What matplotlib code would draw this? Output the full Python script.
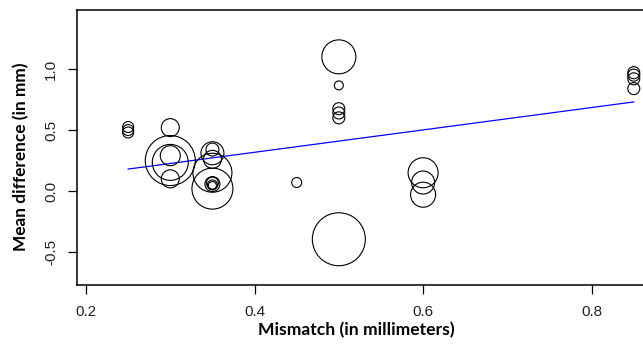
import numpy as np
import matplotlib
matplotlib.use("Agg")
import matplotlib.pyplot as plt

# bubble data: mismatch (mm), mean difference (mm), relative weight
mismatch = [0.25, 0.25, 0.25,
            0.30, 0.30, 0.30, 0.30, 0.30,
            0.35, 0.35, 0.35, 0.35, 0.35, 0.35, 0.35, 0.35, 0.35,
            0.45,
            0.50, 0.50, 0.50, 0.50, 0.50, 0.50,
            0.60, 0.60, 0.60,
            0.85, 0.85, 0.85, 0.85]
mean_diff = [0.525, 0.50, 0.48,
             0.52, 0.25, 0.235, 0.29, 0.10,
             0.34, 0.31, 0.26, 0.15, 0.02, 0.057, 0.05, 0.045, 0.065,
             0.07,
             1.10, 0.866, 0.675, 0.64, 0.60, -0.395,
             0.15, 0.07, -0.03,
             0.97, 0.95, 0.92, 0.84]
weight = [1.1, 1.1, 1.1,
          1.8, 5.0, 3.6, 2.0, 1.8,
          1.3, 2.3, 1.8, 3.9, 4.1, 1.5, 1.0, 0.8, 1.2,
          1.0,
          3.4, 0.9, 1.2, 1.2, 1.2, 5.3,
          3.0, 2.3, 2.5,
          1.2, 1.2, 1.2, 1.2]

# weighted regression line (intercept, slope)
fit_coef = [-0.049, 0.917]

dpi = 100
fig = plt.figure(figsize=(6.43, 3.45), dpi=dpi)
ax = fig.add_axes([77 / 643, 1 - 285 / 345, (654 - 77) / 643, 275 / 345])

# radius in pixels -> scatter size in points^2
r_px = np.array(weight) * 5.0
sizes = (2 * r_px * 72 / dpi) ** 2
ax.scatter(mismatch, mean_diff, s=sizes, facecolors='none', edgecolors='black',
           linewidths=0.8, zorder=3)

xl = np.array([min(mismatch), max(mismatch)])
ax.plot(xl, fit_coef[0] + fit_coef[1] * xl, color='blue', lw=0.9, zorder=2)

ax.set_xlim(0.1893, 0.874)
ax.set_ylim(-0.77, 1.484)
ax.set_xticks([0.2, 0.4, 0.6, 0.8])
ax.set_yticks([-0.5, 0.0, 0.5, 1.0])
ax.set_xticklabels(['0.2', '0.4', '0.6', '0.8'])
ax.set_yticklabels(['-0.5', '0.0', '0.5', '1.0'], rotation=90, va='center')

for lab in ax.get_xticklabels() + ax.get_yticklabels():
    lab.set_fontfamily('Liberation Sans')
    lab.set_fontsize(11)
    lab.set_color('#222222')

ax.tick_params(direction='out', length=6.5, width=0.9)
ax.tick_params(axis='x', pad=8)
ax.tick_params(axis='y', pad=7)
for sp in ax.spines.values():
    sp.set_linewidth(1.1)

ax.set_xlabel('Mismatch (in millimeters)', fontfamily='Lato', fontweight='bold',
              fontsize=12.6)
ax.set_ylabel('Mean difference (in mm)', fontfamily='Lato', fontweight='bold',
              fontsize=12.4)
ax.xaxis.set_label_coords(0.4835, -0.133)
ax.yaxis.set_label_coords(-0.083, 0.467)

fig.savefig('out.png', dpi=dpi)
